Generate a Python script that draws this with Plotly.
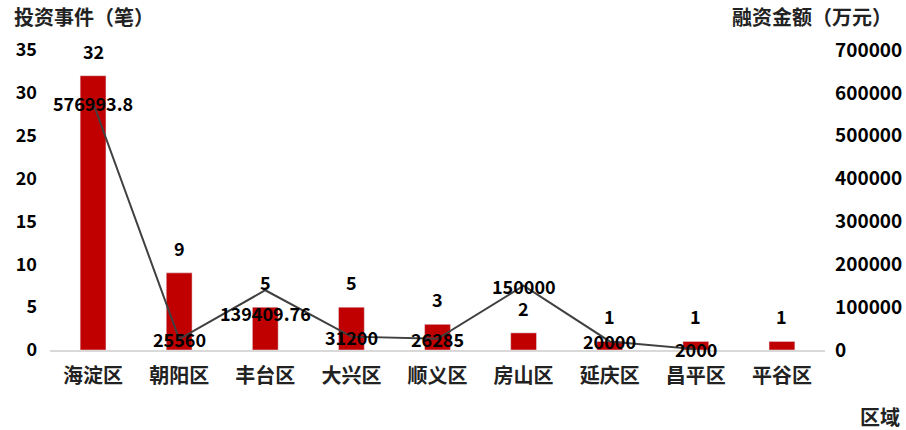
import plotly.graph_objects as go

districts = ["海淀区", "朝阳区", "丰台区", "大兴区", "顺义区", "房山区", "延庆区", "昌平区", "平谷区"]
events = [32, 9, 5, 5, 3, 2, 1, 1, 1]
amounts = [576993.8, 25560, 139409.76, 31200, 26285, 150000, 20000, 2000, None]
amount_label_shift = [0, 0, -23, 0, 0, 0, 0, 0, 0]

FONT = "Microsoft YaHei, Noto Sans CJK SC, sans-serif"
BLACK = "#000000"

fig = go.Figure()
fig.add_trace(go.Bar(x=districts, y=events, marker_color="#c00000", yaxis="y",
                     name="投资事件（笔）", showlegend=False))
fig.add_trace(go.Scatter(x=districts, y=amounts, mode="lines", yaxis="y2",
                         line=dict(color="#404040", width=2), connectgaps=False,
                         name="融资金额（万元）", showlegend=False))

annotations = []
for d, v in zip(districts, events):
    annotations.append(dict(x=d, y=v, xref="x", yref="y", text=str(v), showarrow=False,
                            yanchor="middle", yshift=25,
                            font=dict(family=FONT, size=18, color=BLACK, weight="bold")))
for d, v, s in zip(districts, amounts, amount_label_shift):
    if v is None:
        continue
    annotations.append(dict(x=d, y=v, xref="x", yref="y2", text=str(v), showarrow=False,
                            yanchor="middle", yshift=s,
                            font=dict(family=FONT, size=18, color=BLACK, weight="bold")))

annotations += [
    dict(text="投资事件（笔）", xref="paper", yref="paper", x=(12 - 50) / 775, y=(350 - 17) / 300,
         xanchor="left", yanchor="middle", showarrow=False,
         font=dict(family=FONT, size=20, color="#222222", weight="bold")),
    dict(text="融资金额（万元）", xref="paper", yref="paper", x=(894 - 50) / 775, y=(350 - 17) / 300,
         xanchor="right", yanchor="middle", showarrow=False,
         font=dict(family=FONT, size=20, color="#222222", weight="bold")),
    dict(text="区域", xref="paper", yref="paper", x=(902 - 50) / 775, y=(350 - 416) / 300,
         xanchor="right", yanchor="middle", showarrow=False,
         font=dict(family=FONT, size=20, color="#222222", weight="bold")),
]

fig.update_layout(
    width=906, height=430,
    margin=dict(l=50, r=81, t=50, b=80, autoexpand=False),
    plot_bgcolor="white", paper_bgcolor="white",
    bargap=0.7,
    annotations=annotations,
    xaxis=dict(showline=True, linecolor="#d9d9d9", linewidth=1.5, ticks="",
               ticklabelstandoff=7, automargin=False,
               showgrid=False, tickfont=dict(family=FONT, size=20, color="#222222", weight="bold")),
    yaxis=dict(range=[0, 35], dtick=5, showgrid=False, zeroline=False, ticks="",
               ticklabelstandoff=12, automargin=False,
               tickfont=dict(family=FONT, size=18, color=BLACK, weight="bold")),
    yaxis2=dict(range=[0, 700000], dtick=100000, overlaying="y", side="right",
                showgrid=False, zeroline=False, ticks="", ticklabelstandoff=9,
                tickformat="d", automargin=False,
                tickfont=dict(family=FONT, size=19, color=BLACK, weight="bold")),
)

fig.write_html("out.html", config={"displayModeBar": False},
               post_script="document.body.style.margin='0';document.body.style.overflow='hidden';")
